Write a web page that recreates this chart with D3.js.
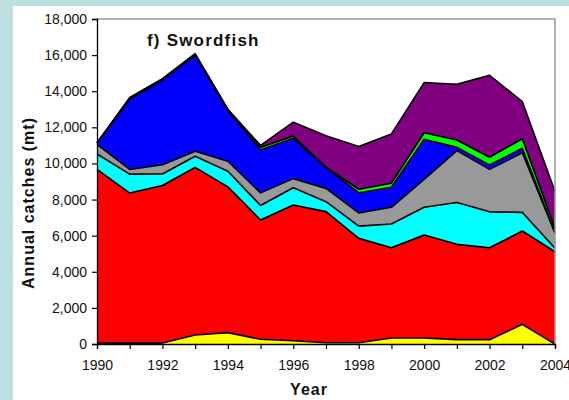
<!DOCTYPE html>
<html>
<head>
<meta charset="utf-8">
<script src="https://cdn.jsdelivr.net/npm/d3@7"></script>
<style>
  body { margin: 0; background: #bcdfe2; }
  svg { display: block; }
  text { font-family: Arial, "Liberation Sans", sans-serif; fill: #111; }
  .axis path, .axis line { stroke: #000; }
</style>
</head>
<body>
<div id="chart"></div>
<script>
// Data (mt)
var years = [1990, 1991, 1992, 1993, 1994, 1995, 1996, 1997, 1998, 1999, 2000, 2001, 2002, 2003, 2004];
var yellowVals = [50, 50, 50, 500, 630, 260, 180, 70, 70, 330, 330, 240, 240, 1090, 0];
var redVals    = [9620, 8310, 8730, 9280, 8070, 6610, 7520, 7260, 5780, 5000, 5710, 5280, 5090, 5170, 5110];
var cyanVals   = [850, 1050, 635, 620, 870, 800, 950, 550, 680, 1320, 1530, 2320, 1990, 1030, 190];
var grayVals   = [540, 260, 515, 280, 550, 700, 510, 740, 730, 920, 1550, 2870, 2350, 3300, 830];
var blueVals   = [60, 3880, 4690, 5300, 2800, 2370, 2240, 1130, 1120, 1110, 2220, 180, 240, 250, 50];
var greenVals  = [10, 30, 20, 30, 40, 150, 120, 50, 190, 220, 360, 410, 430, 530, 220];
var purpleVals = [20, 70, 60, 70, 40, 110, 760, 1730, 2370, 2730, 2780, 3080, 4540, 2060, 2050];
var yTicks = [0, 2000, 4000, 6000, 8000, 10000, 12000, 14000, 16000, 18000];
var xLabelYears = [1990, 1992, 1994, 1996, 1998, 2000, 2002, 2004];

var keys = ["yellow", "red", "cyan", "gray", "blue", "green", "purple"];
var colors = {
    yellow: "#ffff00", red: "#ff0000", cyan: "#00ffff", gray: "#999999",
    blue: "#0000ff", green: "#00ff00", purple: "#800080"
};
var series = { yellow: yellowVals, red: redVals, cyan: cyanVals, gray: grayVals,
    blue: blueVals, green: greenVals, purple: purpleVals };

var rows = years.map(function (yr, i) {
    var r = { year: yr };
    keys.forEach(function (k) { r[k] = series[k][i]; });
    return r;
});

var svgWidth = 569;
var svgHeight = 400;
var plot = { left: 97, right: 555, top: 19, bottom: 344 };

var svg = d3.select("#chart")
    .append("svg")
    .attr("width", svgWidth)
    .attr("height", svgHeight);

// white panel over the light blue page
svg.append("rect")
    .attr("x", 13).attr("y", 6)
    .attr("width", svgWidth - 13).attr("height", svgHeight - 6)
    .attr("fill", "#ffffff");

var x = d3.scaleLinear().domain([1990, 2004]).range([plot.left, plot.right]);
var y = d3.scaleLinear().domain([0, 18000]).range([plot.bottom, plot.top]);

var stacked = d3.stack().keys(keys)(rows);

var area = d3.area()
    .x(function (d) { return x(d.data.year); })
    .y0(function (d) { return y(d[0]); })
    .y1(function (d) { return y(d[1]); });

var topLine = d3.line()
    .x(function (d) { return x(d.data.year); })
    .y(function (d) { return y(d[1]); });

var layers = svg.append("g");

layers.selectAll("path.area")
    .data(stacked)
    .enter()
    .append("path")
    .attr("class", "area")
    .attr("fill", function (d) { return colors[d.key]; })
    .attr("d", area);

layers.selectAll("path.edge")
    .data(stacked)
    .enter()
    .append("path")
    .attr("class", "edge")
    .attr("fill", "none")
    .attr("stroke", "#000")
    .attr("stroke-width", 1.6)
    .attr("stroke-linejoin", "round")
    .attr("d", topLine);

// frame: grey top and right
svg.append("path")
    .attr("d", "M" + plot.left + "," + plot.top + "H" + plot.right + "V" + plot.bottom)
    .attr("fill", "none")
    .attr("stroke", "#999")
    .attr("stroke-width", 1.5);

// axes
var leftAxis = d3.axisLeft(y)
    .tickValues(yTicks)
    .tickSize(5)
    .tickPadding(5)
    .tickFormat(d3.format(","));

var bottomAxis = d3.axisBottom(x)
    .tickValues(years)
    .tickSize(5)
    .tickPadding(11)
    .tickFormat(function (d) { return xLabelYears.indexOf(d) >= 0 ? d : ""; });

var yAxisG = svg.append("g")
    .attr("class", "axis")
    .attr("transform", "translate(" + plot.left + ",0)")
    .call(leftAxis);

var xAxisG = svg.append("g")
    .attr("class", "axis")
    .attr("transform", "translate(0," + plot.bottom + ")")
    .call(bottomAxis);

[yAxisG, xAxisG].forEach(function (g) {
    g.select(".domain").attr("stroke-width", 1.3);
    g.selectAll(".tick line").attr("stroke-width", 1.2);
    g.selectAll("text")
        .attr("font-size", "14px")
        .attr("font-family", "Arial, 'Liberation Sans', sans-serif")
        .attr("fill", "#111");
});

// labels
svg.append("text")
    .attr("x", 147)
    .attr("y", 46)
    .attr("font-size", "17px")
    .attr("font-weight", "bold")
    .attr("letter-spacing", "1.2px")
    .text("f) Swordfish");

svg.append("text")
    .attr("transform", "translate(34,203) rotate(-90)")
    .attr("text-anchor", "middle")
    .attr("font-size", "16px")
    .attr("font-weight", "bold")
    .attr("letter-spacing", "1px")
    .text("Annual catches (mt)");

svg.append("text")
    .attr("x", 309)
    .attr("y", 395)
    .attr("text-anchor", "middle")
    .attr("font-size", "16px")
    .attr("font-weight", "bold")
    .attr("letter-spacing", "1px")
    .text("Year");
</script>
</body>
</html>
